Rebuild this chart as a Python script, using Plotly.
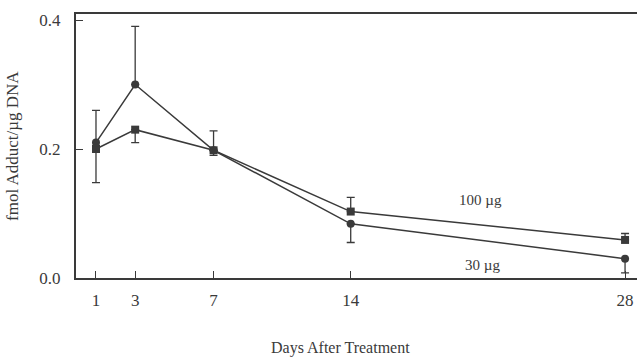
import plotly.graph_objects as go

# Days sampled after treatment
days = [1, 3, 7, 14, 28]

# 30 µg dose (circles)
dose30 = [0.210, 0.300, 0.198, 0.084, 0.030]
dose30_up = [0.050, 0.090, 0.0, 0.0, 0.0]
dose30_down = [0.062, 0.0, 0.008, 0.029, 0.022]

# 100 µg dose (squares)
dose100 = [0.200, 0.230, 0.198, 0.103, 0.059]
dose100_up = [0.0, 0.0, 0.030, 0.022, 0.010]
dose100_down = [0.0, 0.020, 0.0, 0.0, 0.0]

x_ticks = [1, 3, 7, 14, 28]
y_ticks = [0.0, 0.2, 0.4]
y_tick_text = ["0.0", "0.2", "0.4"]

ink = "#3a3a3a"
font_family = "Liberation Serif, Times New Roman, serif"

fig = go.Figure()

fig.add_trace(go.Scatter(
    x=days, y=dose100, mode="lines+markers",
    line=dict(color=ink, width=1.5),
    marker=dict(symbol="square", size=8, color=ink),
    error_y=dict(type="data", symmetric=False, array=dose100_up,
                 arrayminus=dose100_down, color=ink, thickness=1.3, width=4),
    showlegend=False,
))
fig.add_trace(go.Scatter(
    x=days, y=dose30, mode="lines+markers",
    line=dict(color=ink, width=1.5),
    marker=dict(symbol="circle", size=8, color=ink),
    error_y=dict(type="data", symmetric=False, array=dose30_up,
                 arrayminus=dose30_down, color=ink, thickness=1.3, width=4),
    showlegend=False,
))

# Series labels next to the curves
fig.add_annotation(x=20.6, y=0.121, text="100 µg", showarrow=False,
                   font=dict(family=font_family, size=15, color=ink))
fig.add_annotation(x=20.7, y=0.020, text="30 µg", showarrow=False,
                   font=dict(family=font_family, size=15, color=ink))

# Axis titles
fig.add_annotation(x=0.472, y=0, xref="paper", yref="paper", yshift=-70,
                   xanchor="center", yanchor="middle",
                   text="Days After Treatment", showarrow=False,
                   font=dict(family=font_family, size=16, color=ink))
fig.add_annotation(x=0, y=0.5, xref="paper", yref="paper", xshift=-64,
                   yanchor="middle", xanchor="center",
                   text="fmol Adduct/µg DNA", textangle=-90, showarrow=False,
                   font=dict(family=font_family, size=17, color=ink))

fig.update_xaxes(
    range=[-0.02, 28.61], tickvals=x_ticks, ticktext=[str(t) for t in x_ticks],
    ticks="inside", ticklen=7, tickcolor=ink, tickwidth=1.3,
    showline=True, linecolor=ink, linewidth=2, mirror=True,
    showgrid=False, zeroline=False, ticklabelstandoff=6,
    tickfont=dict(family=font_family, size=17, color=ink),
)
fig.update_yaxes(
    range=[0, 0.4093], tickvals=y_ticks, ticktext=y_tick_text,
    ticks="inside", ticklen=7, tickcolor=ink, tickwidth=1.3,
    showline=True, linecolor=ink, linewidth=2,
    showgrid=False, zeroline=False, ticklabelstandoff=10,
    tickfont=dict(family=font_family, size=17, color=ink),
)

fig.update_layout(
    width=637, height=360,
    margin=dict(l=76, r=0, t=14, b=82),
    plot_bgcolor="white", paper_bgcolor="white",
)

fig.write_html("out.html")
